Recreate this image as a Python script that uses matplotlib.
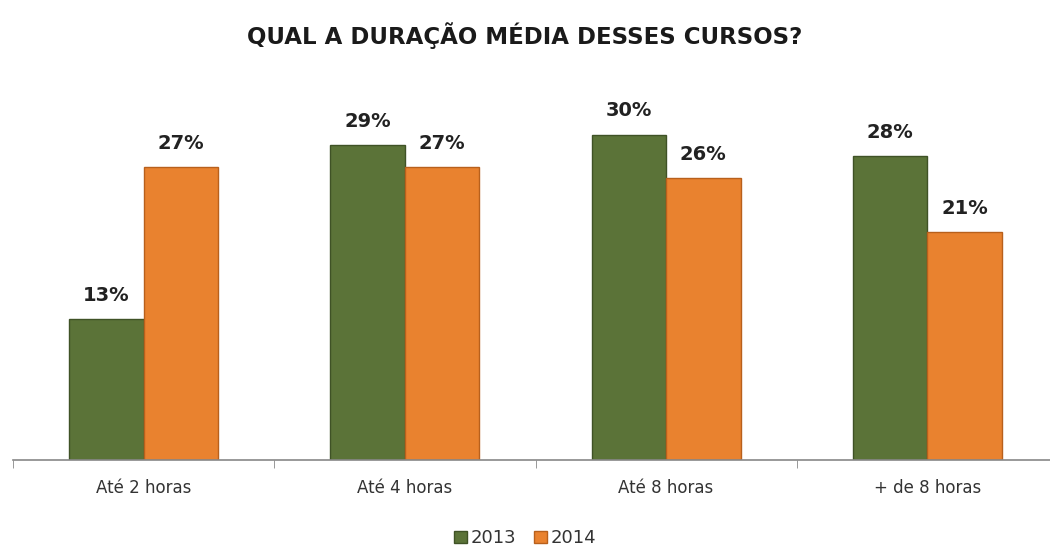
import numpy as np
import matplotlib.pyplot as plt

categories = ['Até 2 horas', 'Até 4 horas', 'Até 8 horas', '+ de 8 horas']
years = ['2013', '2014']
values_2013 = [13, 29, 30, 28]
values_2014 = [27, 27, 26, 21]

colors = ['#5b7338', '#e9822f']
edges = ['#3f5226', '#b8601c']

fig = plt.figure(figsize=(10.5, 5.52), dpi=100)
ax = fig.add_axes([13 / 1050, 92 / 552, 1045 / 1050, 358 / 552])

x = np.arange(len(categories))
width = 0.285

for i, (vals, label) in enumerate(zip([values_2013, values_2014], years)):
    offset = (i - 0.5) * width
    bars = ax.bar(x + offset, vals, width, color=colors[i], edgecolor=edges[i],
                  linewidth=1.0, label=label, zorder=2)
    for b, v in zip(bars, vals):
        ax.text(b.get_x() + b.get_width() / 2, v + 1.3, f'{v}%',
                ha='center', va='bottom', fontsize=14, fontweight='bold',
                color='#222222')

ax.set_xlim(-0.5, 3.5)
ax.set_ylim(0, 33)
ax.set_yticks([])
for s in ['top', 'right', 'left']:
    ax.spines[s].set_visible(False)
ax.spines['bottom'].set_color('#888888')
ax.spines['bottom'].set_linewidth(1.2)

# category separators below the baseline
ax.set_xticks([-0.5, 0.5, 1.5, 2.5], minor=True)
ax.set_xticks(x)
ax.set_xticklabels(categories, fontsize=12, color='#333333')
ax.tick_params(axis='x', which='major', length=0, pad=14)
ax.tick_params(axis='x', which='minor', length=6, color='#888888')

fig.text(0.5, 0.935, 'QUAL A DURAÇÃO MÉDIA DESSES CURSOS?', ha='center',
         va='center', fontsize=16.5, fontweight='bold', color='#1a1a1a')

leg = fig.legend(loc='center', bbox_to_anchor=(0.5, 0.025), ncol=2,
                 frameon=False, fontsize=13, handlelength=0.7,
                 handleheight=0.7, handletextpad=0.2, columnspacing=1.0)
for t in leg.get_texts():
    t.set_color('#333333')

fig.savefig('out.png', dpi=100, facecolor='white')
